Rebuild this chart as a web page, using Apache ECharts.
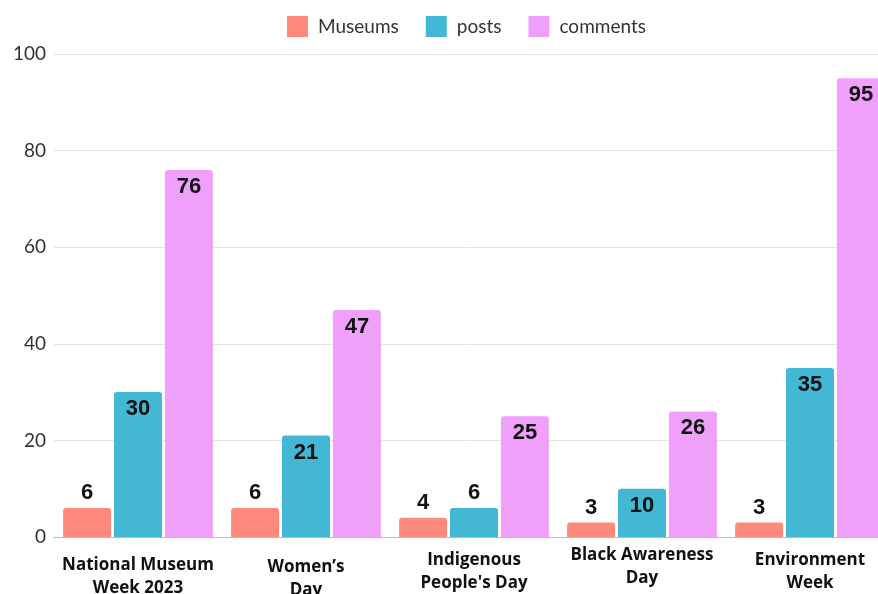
<!DOCTYPE html>
<html>
<head>
<meta charset="utf-8">
<script src="https://cdn.jsdelivr.net/npm/echarts@6/dist/echarts.min.js"></script>
<style>
  html, body { margin: 0; padding: 0; background: #fff; }
  #chart { width: 878px; height: 594px; }
</style>
</head>
<body>
<div id="chart"></div>
<script>
const categories = [
  "National Museum\nWeek 2023",
  "Women’s\nDay",
  "Indigenous\nPeople's Day",
  "Black Awareness\nDay",
  "Environment\nWeek"
];
// small per-label vertical offsets seen in the picture
const labelOffsets = [15, 17, 10, 5, 10];
const museums = [6, 6, 4, 3, 3];
const posts = [30, 21, 6, 10, 35];
const comments = [76, 47, 25, 26, 95];
const yTicks = { min: 0, max: 100, interval: 20 };

const chart = echarts.init(document.getElementById("chart"));

function valueLabels(values) {
  return values.map(function (v) {
    return {
      value: v,
      label: { position: v >= 10 ? "insideTop" : "top", distance: v >= 10 ? 6 : 4 },
    };
  });
}

function makeSeries(name, color, values) {
  return {
    name: name,
    type: "bar",
    barWidth: 48,
    barGap: "6%",
    itemStyle: { color: color, borderRadius: [3, 3, 0, 0] },
    label: {
      show: true,
      color: "#111",
      fontFamily: "Liberation Sans",
      fontWeight: "bold",
      fontSize: 22,
    },
    data: valueLabels(values),
  };
}

chart.setOption({
  animation: false,
  color: ["#ff8a7c", "#42b8d5", "#eea0fb"],
  legend: {
    top: 11,
    left: 282,
    itemWidth: 21,
    itemHeight: 21,
    itemGap: 27,
    icon: "rect",
    textStyle: { fontFamily: "Lato", fontSize: 19, color: "#333", padding: [0, 0, 0, 5] },
    data: ["Museums", "posts", "comments"],
  },
  grid: { left: 54, width: 840, top: 54, height: 483, outerBoundsMode: "none", containLabel: false },
  xAxis: {
    type: "category",
    data: categories.map(function (c, i) {
      return { value: c, textStyle: { padding: [labelOffsets[i], 0, 0, 0] } };
    }),
    axisTick: { show: false },
    axisLine: { lineStyle: { color: "#bbb" } },
    axisLabel: {
      interval: 0,
      margin: 2,
      color: "#111",
      fontFamily: "Open Sans",
      fontWeight: "bold",
      fontSize: 17,
      lineHeight: 23,
    },
  },
  yAxis: {
    type: "value",
    min: yTicks.min,
    max: yTicks.max,
    interval: yTicks.interval,
    axisLabel: { margin: 8, color: "#333", fontFamily: "Lato", fontSize: 19 },
    splitLine: { lineStyle: { color: "#e4e4e4" } },
  },
  series: [
    makeSeries("Museums", "#ff8a7c", museums),
    makeSeries("posts", "#42b8d5", posts),
    makeSeries("comments", "#eea0fb", comments),
  ],
});
</script>
</body>
</html>
